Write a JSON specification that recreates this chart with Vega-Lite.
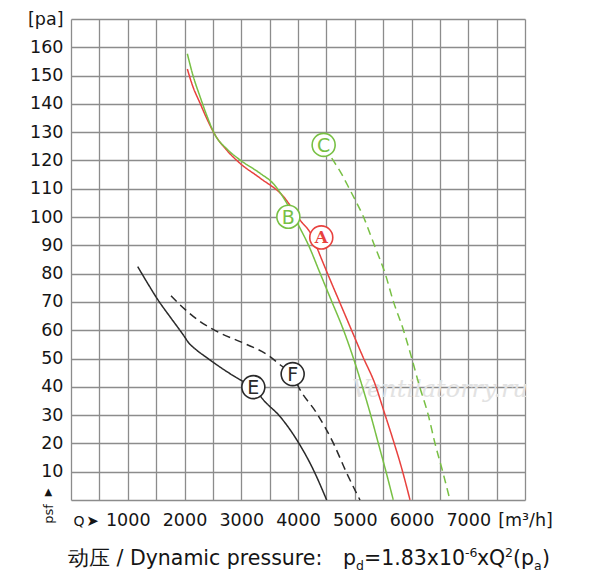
{
  "$schema": "https://vega.github.io/schema/vega-lite/v6.json",
  "description": "Fan curves A, B, C, E, F: static pressure psf [pa] against air flow Q [m3/h].",
  "width": 454,
  "height": 481,
  "autosize": {"type": "none"},
  "padding": {"left": 71, "top": 19, "right": 75, "bottom": 83},
  "background": "white",
  "config": {"view": {"stroke": null}, "font": "DejaVu Sans"},
  "datasets": {
    "curves": [
      {"curve": "A", "Q": 2050, "p": 152.3}, {"curve": "A", "Q": 2150, "p": 146}, {"curve": "A", "Q": 2273, "p": 140.3},
      {"curve": "A", "Q": 2400, "p": 134.5}, {"curve": "A", "Q": 2537, "p": 129.1}, {"curve": "A", "Q": 2750, "p": 123.5},
      {"curve": "A", "Q": 2978, "p": 119}, {"curve": "A", "Q": 3330, "p": 113.8}, {"curve": "A", "Q": 3741, "p": 107.3},
      {"curve": "A", "Q": 4035, "p": 99}, {"curve": "A", "Q": 4270, "p": 92.5}, {"curve": "A", "Q": 4358, "p": 88},
      {"curve": "A", "Q": 4517, "p": 80.2}, {"curve": "A", "Q": 4728, "p": 70.2}, {"curve": "A", "Q": 4940, "p": 60.2},
      {"curve": "A", "Q": 5146, "p": 50.5}, {"curve": "A", "Q": 5357, "p": 41}, {"curve": "A", "Q": 5520, "p": 31},
      {"curve": "A", "Q": 5680, "p": 21}, {"curve": "A", "Q": 5830, "p": 11}, {"curve": "A", "Q": 5974, "p": 0},

      {"curve": "B", "Q": 2050, "p": 157.7}, {"curve": "B", "Q": 2150, "p": 150}, {"curve": "B", "Q": 2273, "p": 142.6},
      {"curve": "B", "Q": 2400, "p": 135.5}, {"curve": "B", "Q": 2537, "p": 129.1}, {"curve": "B", "Q": 2750, "p": 124},
      {"curve": "B", "Q": 2978, "p": 120.2}, {"curve": "B", "Q": 3330, "p": 115.5}, {"curve": "B", "Q": 3565, "p": 111.8},
      {"curve": "B", "Q": 3800, "p": 105}, {"curve": "B", "Q": 4035, "p": 96.1}, {"curve": "B", "Q": 4182, "p": 90.2},
      {"curve": "B", "Q": 4388, "p": 80.2}, {"curve": "B", "Q": 4594, "p": 70.2}, {"curve": "B", "Q": 4799, "p": 60.2},
      {"curve": "B", "Q": 4975, "p": 50.2}, {"curve": "B", "Q": 5120, "p": 41}, {"curve": "B", "Q": 5281, "p": 30},
      {"curve": "B", "Q": 5416, "p": 20}, {"curve": "B", "Q": 5551, "p": 10}, {"curve": "B", "Q": 5679, "p": 0},

      {"curve": "C", "Q": 4594, "p": 120.8}, {"curve": "C", "Q": 4760, "p": 115.5}, {"curve": "C", "Q": 4916, "p": 109.6},
      {"curve": "C", "Q": 5004, "p": 106.2}, {"curve": "C", "Q": 5151, "p": 100.2}, {"curve": "C", "Q": 5343, "p": 90.2},
      {"curve": "C", "Q": 5445, "p": 85}, {"curve": "C", "Q": 5533, "p": 80.2}, {"curve": "C", "Q": 5680, "p": 70.2},
      {"curve": "C", "Q": 5856, "p": 60.2}, {"curve": "C", "Q": 6003, "p": 50.2}, {"curve": "C", "Q": 6140, "p": 40.3},
      {"curve": "C", "Q": 6296, "p": 30}, {"curve": "C", "Q": 6414, "p": 20}, {"curve": "C", "Q": 6550, "p": 10},
      {"curve": "C", "Q": 6678, "p": 0},

      {"curve": "E", "Q": 1175, "p": 82.5}, {"curve": "E", "Q": 1350, "p": 76.6}, {"curve": "E", "Q": 1510, "p": 71.4},
      {"curve": "E", "Q": 1780, "p": 63.8}, {"curve": "E", "Q": 1980, "p": 58.3}, {"curve": "E", "Q": 2080, "p": 55.4},
      {"curve": "E", "Q": 2200, "p": 53.2}, {"curve": "E", "Q": 2400, "p": 50.2}, {"curve": "E", "Q": 2567, "p": 47.8},
      {"curve": "E", "Q": 2978, "p": 42.5}, {"curve": "E", "Q": 3213, "p": 39.9}, {"curve": "E", "Q": 3389, "p": 35.4},
      {"curve": "E", "Q": 3683, "p": 29.5}, {"curve": "E", "Q": 3977, "p": 21.3}, {"curve": "E", "Q": 4270, "p": 10.7},
      {"curve": "E", "Q": 4505, "p": 0},

      {"curve": "F", "Q": 1762, "p": 72.2}, {"curve": "F", "Q": 1921, "p": 69}, {"curve": "F", "Q": 2273, "p": 63.1},
      {"curve": "F", "Q": 2626, "p": 59}, {"curve": "F", "Q": 3036, "p": 55.5}, {"curve": "F", "Q": 3507, "p": 50.7},
      {"curve": "F", "Q": 3683, "p": 47.8}, {"curve": "F", "Q": 3906, "p": 44}, {"curve": "F", "Q": 4035, "p": 39},
      {"curve": "F", "Q": 4329, "p": 30.7}, {"curve": "F", "Q": 4623, "p": 20.1}, {"curve": "F", "Q": 4858, "p": 9.5},
      {"curve": "F", "Q": 5092, "p": 0}
    ],
    "badges": [
      {"curve": "A", "Q": 4410, "p": 92.8},
      {"curve": "B", "Q": 3830, "p": 100.1},
      {"curve": "C", "Q": 4452, "p": 125.5},
      {"curve": "E", "Q": 3213, "p": 39.9},
      {"curve": "F", "Q": 3906, "p": 44.5}
    ],
    "caption": [
      {"Q": -53, "p": -22.9, "t": "动压 / Dynamic pressure:"},
      {"Q": 4793, "p": -22.9, "t": "p"},
      {"Q": 5163, "p": -22.9, "t": "=1.83x10"},
      {"Q": 7154, "p": -22.9, "t": "xQ"},
      {"Q": 7789, "p": -22.9, "t": "(p"},
      {"Q": 8300, "p": -22.9, "t": ")"}
    ],
    "caption_small": [
      {"Q": 5022, "p": -24.6, "t": "d"},
      {"Q": 6943, "p": -20.0, "t": "-6"},
      {"Q": 7648, "p": -20.0, "t": "2"},
      {"Q": 8159, "p": -24.6, "t": "a"}
    ]
  },
  "encoding": {
    "x": {
      "field": "Q",
      "type": "quantitative",
      "scale": {"domain": [0, 8000], "nice": false, "zero": false},
      "axis": {
        "values": [0, 500, 1000, 1500, 2000, 2500, 3000, 3500, 4000, 4500, 5000, 5500, 6000, 6500, 7000, 7500, 8000],
        "format": "d",
        "labelExpr": "datum.value == 8000 ? '[m³/h]' : (datum.value >= 1000 && datum.value <= 7000 && datum.value % 1000 == 0 ? datum.label : '')",
        "grid": true,
        "gridColor": "#8c8c8c",
        "gridWidth": 1.3,
        "gridOpacity": 1,
        "domain": false,
        "ticks": false,
        "labelFont": "DejaVu Sans",
        "labelFontSize": 17.5,
        "labelColor": "#151515",
        "labelPadding": 11,
        "labelOverlap": false,
        "labelFlush": false,
        "labelBound": false,
        "title": null
      }
    },
    "y": {
      "field": "p",
      "type": "quantitative",
      "scale": {"domain": [0, 170], "nice": false, "zero": false},
      "axis": {
        "values": [0, 10, 20, 30, 40, 50, 60, 70, 80, 90, 100, 110, 120, 130, 140, 150, 160, 170],
        "labelExpr": "datum.value == 170 ? '[pa]' : (datum.value == 0 ? '' : datum.label)",
        "grid": true,
        "gridColor": "#8c8c8c",
        "gridWidth": 1.3,
        "gridOpacity": 1,
        "domain": false,
        "ticks": false,
        "labelFont": "DejaVu Sans",
        "labelFontSize": 17.5,
        "labelColor": "#151515",
        "labelPadding": 8,
        "labelOverlap": false,
        "labelFlush": false,
        "labelBound": false,
        "title": null
      }
    }
  },
  "layer": [
    {
      "data": {"values": [{"Q": 6502, "p": 38.9, "t": "Ventilatorry.ru"}]},
      "mark": {"type": "text", "font": "DejaVu Serif", "fontStyle": "italic", "fontSize": 24, "color": "#e2e2e2", "align": "center", "baseline": "middle", "clip": false},
      "encoding": {"text": {"field": "t"}}
    },
    {
      "data": {"name": "curves"},
      "mark": {"type": "line", "interpolate": "monotone", "strokeWidth": 1.5},
      "encoding": {
        "detail": {"field": "curve"},
        "color": {
          "field": "curve",
          "type": "nominal",
          "scale": {"domain": ["A", "B", "C", "E", "F"], "range": ["#e8413e", "#78c044", "#78c044", "#2a2a2a", "#2a2a2a"]},
          "legend": null
        },
        "strokeDash": {
          "field": "curve",
          "type": "nominal",
          "scale": {"domain": ["A", "B", "C", "E", "F"], "range": [[1, 0], [1, 0], [8, 5], [1, 0], [8, 5]]},
          "legend": null
        }
      }
    },
    {
      "data": {"name": "badges"},
      "mark": {"type": "point", "shape": "circle", "size": 530, "filled": false, "fill": "white", "fillOpacity": 1, "strokeWidth": 1.6, "opacity": 1},
      "encoding": {
        "stroke": {
          "field": "curve",
          "type": "nominal",
          "scale": {"domain": ["A", "B", "C", "E", "F"], "range": ["#e8413e", "#78c044", "#78c044", "#2a2a2a", "#2a2a2a"]},
          "legend": null
        }
      }
    },
    {
      "data": {"name": "badges"},
      "transform": [{"filter": "datum.curve != 'A'"}],
      "mark": {"type": "text", "font": "DejaVu Sans", "fontSize": 19, "align": "center", "baseline": "middle", "dy": 1},
      "encoding": {
        "text": {"field": "curve"},
        "color": {"field": "curve", "type": "nominal", "legend": null}
      }
    },
    {
      "data": {"name": "badges"},
      "transform": [{"filter": "datum.curve == 'A'"}],
      "mark": {"type": "text", "font": "DejaVu Serif", "fontWeight": "bold", "fontSize": 17, "align": "center", "baseline": "middle", "dy": 1},
      "encoding": {
        "text": {"field": "curve"},
        "color": {"field": "curve", "type": "nominal", "legend": null}
      }
    },
    {
      "data": {"values": [{"Q": 141, "p": -7.7, "t": "Q"}]},
      "mark": {"type": "text", "fontSize": 14, "color": "#151515", "align": "center", "baseline": "middle", "clip": false},
      "encoding": {"text": {"field": "t"}}
    },
    {
      "data": {"values": [{"Q": 379, "p": -7.3, "t": "➤"}]},
      "mark": {"type": "text", "fontSize": 15, "color": "#151515", "align": "center", "baseline": "middle", "clip": false},
      "encoding": {"text": {"field": "t"}}
    },
    {
      "data": {"values": [{"Q": -400, "p": 2.7, "t": "▲"}]},
      "mark": {"type": "text", "fontSize": 10, "color": "#151515", "align": "center", "baseline": "middle", "clip": false},
      "encoding": {"text": {"field": "t"}}
    },
    {
      "data": {"values": [{"Q": -388, "p": -4.9, "t": "psf"}]},
      "mark": {"type": "text", "fontSize": 13, "angle": 270, "color": "#151515", "align": "center", "baseline": "middle", "clip": false},
      "encoding": {"text": {"field": "t"}}
    },
    {
      "data": {"name": "caption"},
      "mark": {"type": "text", "font": "DejaVu Sans", "fontSize": 20.5, "color": "#151515", "align": "left", "baseline": "alphabetic", "clip": false},
      "encoding": {"text": {"field": "t"}}
    },
    {
      "data": {"name": "caption_small"},
      "mark": {"type": "text", "font": "DejaVu Sans", "fontSize": 12.5, "color": "#151515", "align": "left", "baseline": "alphabetic", "clip": false},
      "encoding": {"text": {"field": "t"}}
    }
  ]
}
